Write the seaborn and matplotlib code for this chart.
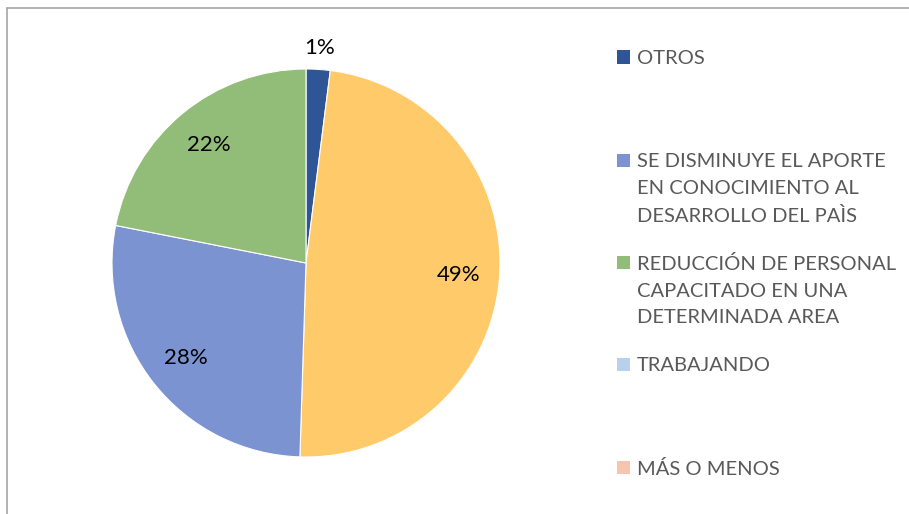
import matplotlib
matplotlib.use("Agg")
import matplotlib.pyplot as plt
import seaborn as sns
import numpy as np
from matplotlib.patches import Rectangle
from matplotlib.lines import Line2D

# Pie data (clockwise from top)
slice_values = [2.0, 48.5, 27.6, 21.9]
slice_labels = ["1%", "49%", "28%", "22%"]
slice_colors = ["#2F5597", "#FFCA69", "#7B93D1", "#92BD78"]

# Legend entries
legend_names = [
    "OTROS",
    "SE DISMINUYE EL APORTE\nEN CONOCIMIENTO AL\nDESARROLLO DEL PAÌS",
    "REDUCCIÓN DE PERSONAL\nCAPACITADO EN UNA\nDETERMINADA AREA",
    "TRABAJANDO",
    "MÁS O MENOS",
]
legend_colors = ["#2F5597", "#7B93D1", "#92BD78", "#B8D0EC", "#F6C4AF"]

sns.set_theme(style="white")
plt.rcParams["font.family"] = ["Lato", "DejaVu Sans"]

W, H = 909, 514
fig = plt.figure(figsize=(W / 100, H / 100), dpi=100)
fig.patch.set_facecolor("white")

# pie centred at (306, 263) px, radius 194 px
cx, cy, r = 306, 263, 194
ax = fig.add_axes([(cx - r) / W, (H - cy - r) / H, 2 * r / W, 2 * r / H])
wedges, texts = ax.pie(slice_values, colors=slice_colors, startangle=90,
                       counterclock=False, radius=1,
                       wedgeprops={"linewidth": 0.8, "edgecolor": "white"})
ax.set_xlim(-1, 1)
ax.set_ylim(-1, 1)
ax.set_aspect("equal")
ax.axis("off")

# percentage labels
for w, lab in zip(wedges, slice_labels):
    ang = np.deg2rad((w.theta1 + w.theta2) / 2)
    dist = 1.11 if lab == "1%" else 0.79
    ax.text(dist * np.cos(ang), dist * np.sin(ang), lab, ha="center",
            va="center", fontsize=16, color="black", clip_on=False)

# manual legend
first_line_y = [57, 160, 262, 364, 467]
for name, col, yy in zip(legend_names, legend_colors, first_line_y):
    fig.patches.append(Rectangle((617 / W, (H - yy - 6.5) / H), 13 / W, 13 / H,
                                 transform=fig.transFigure, facecolor=col,
                                 edgecolor="none"))
    fig.text(637 / W, (H - yy + 7) / H, name, ha="left", va="top",
             fontsize=14.5, color="#595959", linespacing=1.68)

# chart border (only top and left are inside the image)
fig.add_artist(Line2D([7.5 / W, 7.5 / W], [0, (H - 7.5) / H], color="#A6A6A6",
                      lw=1.2, transform=fig.transFigure))
fig.add_artist(Line2D([7.5 / W, 1], [(H - 7.5) / H, (H - 7.5) / H],
                      color="#A6A6A6", lw=1.2, transform=fig.transFigure))

fig.savefig("out.png", dpi=100)
